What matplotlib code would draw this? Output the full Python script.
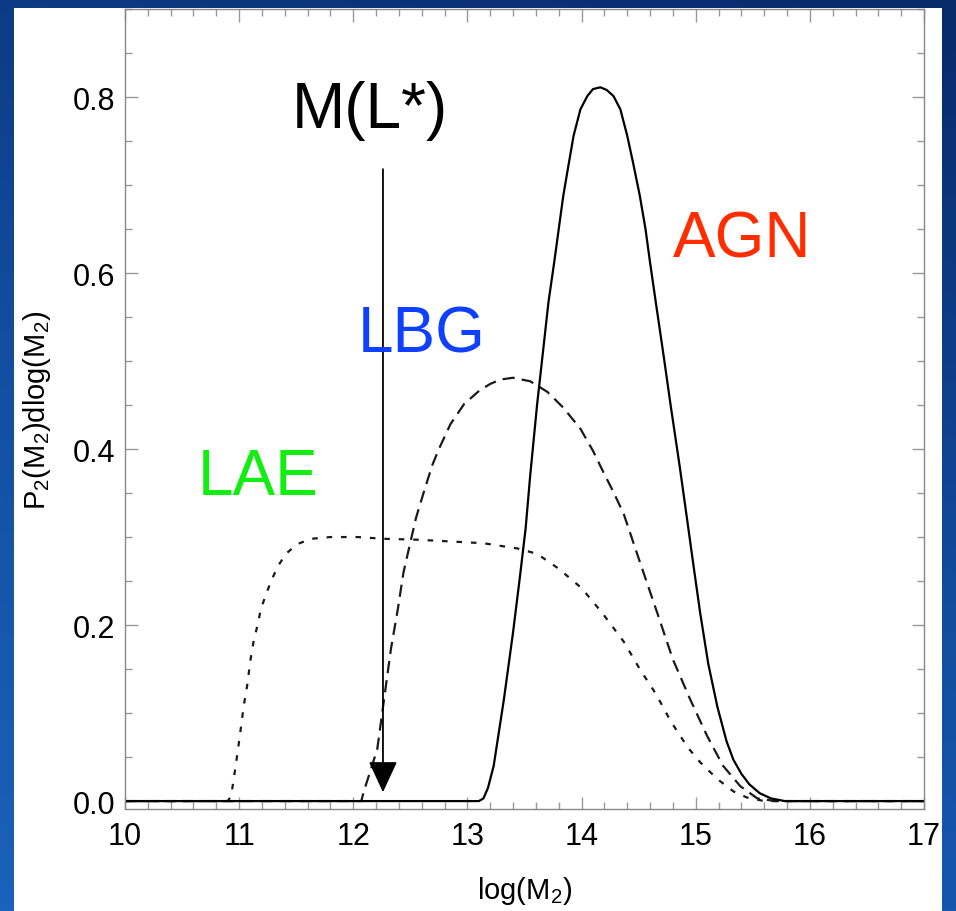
import numpy as np
import matplotlib
matplotlib.use("Agg")
import matplotlib.pyplot as plt
from matplotlib.colors import LinearSegmentedColormap
from matplotlib.patches import Rectangle
from matplotlib.ticker import MultipleLocator, FormatStrFormatter

plt.rcParams.update({
    "font.family": ["Liberation Sans", "DejaVu Sans"],
    "mathtext.fontset": "custom",
    "mathtext.rm": "Liberation Sans",
    "mathtext.it": "Liberation Sans:italic",
})

# LAE (dotted)
lae_x = [10.0, 10.90, 10.93, 10.97, 11.01, 11.04, 11.07, 11.10, 11.13, 11.16, 11.19,
         11.23, 11.28, 11.34, 11.41, 11.51, 11.63, 11.80, 12.04, 12.27, 12.56, 12.85,
         13.14, 13.44, 13.61, 13.80, 14.00, 14.18, 14.37, 14.51, 14.65, 14.78, 14.93,
         15.04, 15.19, 15.33, 15.45, 15.60, 17.0]
lae_y = [0.0, 0.0, 0.006, 0.040, 0.078, 0.108, 0.131, 0.161, 0.184, 0.199, 0.218,
         0.233, 0.250, 0.267, 0.281, 0.292, 0.298, 0.300, 0.300, 0.298, 0.297, 0.295,
         0.293, 0.287, 0.281, 0.264, 0.242, 0.214, 0.181, 0.150, 0.122, 0.091, 0.061,
         0.044, 0.025, 0.011, 0.004, 0.0, 0.0]

# LBG (dashed)
lbg_x = [10.0, 12.07, 12.09, 12.21, 12.27, 12.33, 12.39, 12.44, 12.50, 12.55, 12.62,
         12.69, 12.75, 12.85, 12.97, 13.11, 13.20, 13.29, 13.40, 13.55, 13.70, 13.84,
         13.99, 14.10, 14.19, 14.28, 14.37, 14.51, 14.66, 14.80, 14.95, 15.10, 15.24,
         15.39, 15.54, 15.70, 17.0]
lbg_y = [0.0, 0.0, 0.010, 0.059, 0.116, 0.173, 0.218, 0.260, 0.294, 0.322, 0.352,
         0.381, 0.400, 0.428, 0.451, 0.467, 0.474, 0.479, 0.481, 0.477, 0.465, 0.447,
         0.423, 0.398, 0.374, 0.351, 0.326, 0.272, 0.215, 0.161, 0.116, 0.074, 0.040,
         0.017, 0.003, 0.0, 0.0]

# AGN (solid)
agn_x = [10.0, 13.10, 13.14, 13.18, 13.23, 13.32, 13.40, 13.46, 13.51, 13.55, 13.61,
         13.67, 13.71, 13.76, 13.80, 13.84, 13.89, 13.93, 13.99, 14.05, 14.10, 14.165,
         14.22, 14.28, 14.34, 14.40, 14.45, 14.51, 14.56, 14.60, 14.65, 14.72, 14.78,
         14.86, 14.93, 14.98, 15.04, 15.11, 15.19, 15.27, 15.33, 15.40, 15.47, 15.56,
         15.66, 15.78, 17.0]
agn_y = [0.0, 0.0, 0.003, 0.015, 0.040, 0.116, 0.192, 0.255, 0.310, 0.370, 0.450,
         0.520, 0.567, 0.612, 0.650, 0.688, 0.726, 0.756, 0.786, 0.801, 0.809, 0.811,
         0.808, 0.801, 0.786, 0.756, 0.726, 0.688, 0.650, 0.612, 0.567, 0.505, 0.450,
         0.380, 0.315, 0.268, 0.213, 0.156, 0.107, 0.068, 0.047, 0.031, 0.019, 0.009,
         0.003, 0.0, 0.0]

mlstar = 12.26  # M(L*) arrow position

fig = plt.figure(figsize=(9.56, 9.12), dpi=100)

# slide background: blue gradient + white panel
bg = fig.add_axes([0, 0, 1, 1], zorder=-10)
gy, gx = np.mgrid[0:1:200j, 0:1:200j]
field = 0.75 * gy + 0.25 * (1 - gx)
cmap = LinearSegmentedColormap.from_list("slide", ["#08296a", "#124c9e", "#1a62bb"])
bg.imshow(field, cmap=cmap, aspect="auto", extent=(0, 1, 0, 1), origin="upper")
bg.axis("off")
fig.patches.append(Rectangle((14 / 956, 0), 928 / 956, 903 / 912,
                             transform=fig.transFigure, facecolor="white",
                             edgecolor="none", zorder=-5))

ax = fig.add_axes([125 / 956, 102 / 912, 799 / 956, 800 / 912])
ax.set_facecolor("none")

ax.plot(lae_x, lae_y, color="#1a1a1a", lw=1.6, linestyle=(0, (2.5, 4)))
ax.plot(lbg_x, lbg_y, color="#1a1a1a", lw=1.6, linestyle=(0, (5.5, 3.2)))
ax.plot(agn_x, agn_y, color="black", lw=1.6)

ax.annotate("", xy=(mlstar, 0.010), xytext=(mlstar, 0.718),
            arrowprops=dict(arrowstyle="-|>,head_length=1.95,head_width=0.9",
                            color="black", lw=1.3, shrinkA=0, shrinkB=0))

ax.text(11.46, 0.766, "M(L*)", fontsize=46, color="black", va="baseline")
ax.text(14.80, 0.619, "AGN", fontsize=46, color="#ff2d00", va="baseline")
ax.text(12.04, 0.511, "LBG", fontsize=46, color="#1040ff", va="baseline")
ax.text(10.64, 0.349, "LAE", fontsize=46, color="#12ee12", va="baseline")

ax.set_xlim(10, 17)
ax.set_ylim(-0.009, 0.9)
ax.xaxis.set_major_locator(MultipleLocator(1))
ax.xaxis.set_minor_locator(MultipleLocator(0.2))
ax.yaxis.set_major_locator(MultipleLocator(0.2))
ax.yaxis.set_minor_locator(MultipleLocator(0.05))
ax.yaxis.set_major_formatter(FormatStrFormatter("%.1f"))

ax.tick_params(which="both", direction="in", top=True, right=True,
               color="#999999", width=1.0, labelsize=22, labelcolor="black")
ax.tick_params(which="major", length=9)
ax.tick_params(which="minor", length=5)
ax.tick_params(axis="x", which="major", pad=9)
ax.tick_params(axis="y", which="major", pad=7)
for s in ax.spines.values():
    s.set_color("#888888")
    s.set_linewidth(1.0)

ax.set_xlabel(r"log(M$_{\mathrm{2}}$)", fontsize=21, labelpad=16)
ax.set_ylabel(r"P$_{\mathrm{2}}$(M$_{\mathrm{2}}$)dlog(M$_{\mathrm{2}}$)", fontsize=21, labelpad=14)

fig.savefig("out.png", dpi=100)
